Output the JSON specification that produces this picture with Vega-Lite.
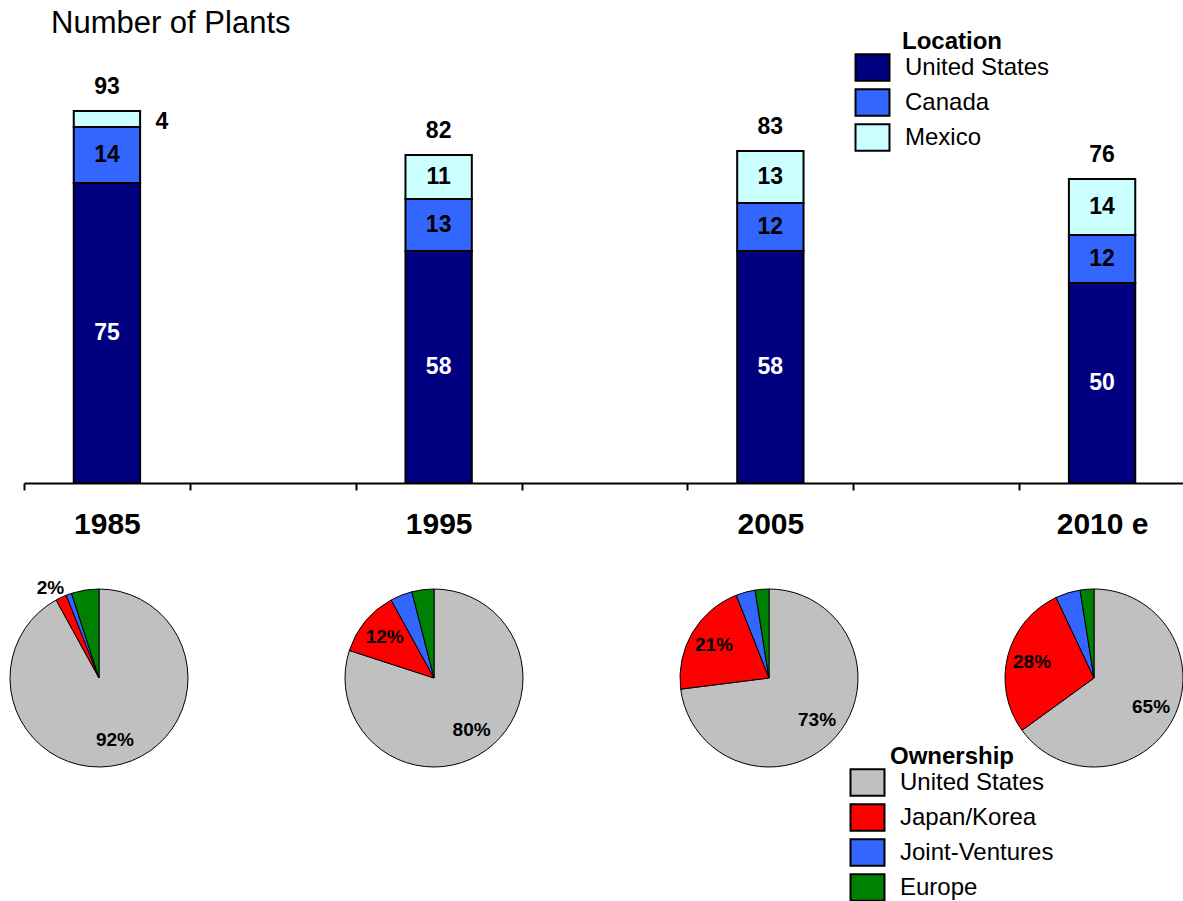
{
  "$schema": "https://vega.github.io/schema/vega-lite/v6.json",
  "padding": {"left": 8, "top": 8, "right": 0, "bottom": 0},
  "bounds": "flush",
  "spacing": 103,
  "config": {"view": {"stroke": null}, "font": "Liberation Sans"},
  "resolve": {"scale": {"color": "independent", "theta": "independent"}, "legend": {"color": "independent"}},
  "datasets": {
    "plants": [
      {"year": "1985", "location": "United States", "value": 75},
      {"year": "1985", "location": "Canada", "value": 14},
      {"year": "1985", "location": "Mexico", "value": 4},
      {"year": "1995", "location": "United States", "value": 58},
      {"year": "1995", "location": "Canada", "value": 13},
      {"year": "1995", "location": "Mexico", "value": 11},
      {"year": "2005", "location": "United States", "value": 58},
      {"year": "2005", "location": "Canada", "value": 12},
      {"year": "2005", "location": "Mexico", "value": 13},
      {"year": "2010 e", "location": "United States", "value": 50},
      {"year": "2010 e", "location": "Canada", "value": 12},
      {"year": "2010 e", "location": "Mexico", "value": 14}
    ],
    "own": [
      {"year": "1985", "owner": "United States", "share": 0.92},
      {"year": "1985", "owner": "Japan/Korea", "share": 0.02},
      {"year": "1985", "owner": "Joint-Ventures", "share": 0.01},
      {"year": "1985", "owner": "Europe", "share": 0.05},
      {"year": "1995", "owner": "United States", "share": 0.80},
      {"year": "1995", "owner": "Japan/Korea", "share": 0.12},
      {"year": "1995", "owner": "Joint-Ventures", "share": 0.04},
      {"year": "1995", "owner": "Europe", "share": 0.04},
      {"year": "2005", "owner": "United States", "share": 0.73},
      {"year": "2005", "owner": "Japan/Korea", "share": 0.21},
      {"year": "2005", "owner": "Joint-Ventures", "share": 0.035},
      {"year": "2005", "owner": "Europe", "share": 0.025},
      {"year": "2010 e", "owner": "United States", "share": 0.65},
      {"year": "2010 e", "owner": "Japan/Korea", "share": 0.28},
      {"year": "2010 e", "owner": "Joint-Ventures", "share": 0.045},
      {"year": "2010 e", "owner": "Europe", "share": 0.025}
    ]
  },
  "vconcat": [
    {
      "width": 1161,
      "height": 400,
      "title": {"text": "Number of Plants", "anchor": "start", "frame": "group", "dx": 27, "fontSize": 31, "fontWeight": "normal", "font": "Liberation Sans", "color": "black", "offset": -10},
      "data": {"name": "plants"},
      "transform": [{"window": [{"op": "row_number", "as": "rank"}], "groupby": ["year"]}],
      "encoding": {
        "x": {
          "field": "year", "type": "nominal", "sort": null,
          "scale": {"domain": ["1985", "gap1", "1995", "gap2", "2005", "gap3", "2010 e"], "paddingInner": 0, "paddingOuter": 0},
          "axis": {"title": null, "tickBand": "extent", "labelAngle": 0, "labelExpr": "indexof(datum.label, 'gap') == 0 ? '' : datum.label",
            "labelFontSize": 30, "labelFontWeight": "bold", "labelColor": "black", "labelPadding": 19,
            "domainColor": "black", "domainWidth": 2, "tickColor": "black", "tickWidth": 2, "tickSize": 7}
        }
      },
      "layer": [
        {
          "mark": {"type": "bar", "width": {"band": 0.4}, "stroke": "black", "strokeWidth": 2},
          "encoding": {
            "y": {"field": "value", "type": "quantitative", "stack": "zero", "scale": {"domain": [0, 100]}, "axis": null},
            "order": {"field": "rank", "type": "quantitative"},
            "color": {"field": "location", "type": "nominal",
              "scale": {"domain": ["United States", "Canada", "Mexico"], "range": ["#000080", "#3366FF", "#CCFFFF"]},
              "legend": {"title": "Location", "orient": "none", "legendX": 831, "legendY": -53,
                "titleFontSize": 24, "titleFontWeight": "bold", "titleColor": "black", "titleAnchor": "middle", "titlePadding": -4,
                "labelFontSize": 24, "labelColor": "black", "labelOffset": 15,
                "symbolType": "M-1.03,-0.8H1.03V0.8H-1.03Z", "symbolSize": 1089, "symbolStrokeColor": "black", "symbolStrokeWidth": 2, "symbolOpacity": 1,
                "rowPadding": -4.5}}
          }
        },
        {
          "mark": {"type": "text", "fontSize": 23, "fontWeight": "bold"},
          "encoding": {
            "y": {"field": "value", "type": "quantitative", "stack": "zero", "bandPosition": 0.5},
            "order": {"field": "rank", "type": "quantitative"},
            "detail": {"field": "location"},
            "text": {"condition": {"test": "datum.year == '1985' && datum.location == 'Mexico'", "value": ""}, "field": "value", "type": "quantitative"},
            "color": {"condition": {"test": "datum.location == 'United States'", "value": "white"}, "value": "black"}
          }
        },
        {
          "mark": {"type": "text", "fontSize": 23, "fontWeight": "bold", "color": "black", "dx": 55, "dy": 3},
          "encoding": {
            "y": {"field": "value", "type": "quantitative", "stack": "zero", "bandPosition": 0.5},
            "order": {"field": "rank", "type": "quantitative"},
            "detail": {"field": "location"},
            "text": {"condition": {"test": "datum.year == '1985' && datum.location == 'Mexico'", "field": "value", "type": "quantitative"}, "value": ""}
          }
        },
        {
          "mark": {"type": "text", "fontSize": 23, "fontWeight": "bold", "color": "black", "baseline": "bottom", "dy": -12},
          "encoding": {
            "y": {"aggregate": "sum", "field": "value", "type": "quantitative"},
            "text": {"aggregate": "sum", "field": "value", "type": "quantitative"}
          }
        }
      ]
    },
    {
      "bounds": "flush",
      "spacing": 185,
      "hconcat": [
        {
          "width": 150, "height": 184,
          "data": {"name": "own"},
          "transform": [{"filter": "datum.year == '1985'"}, {"window": [{"op": "row_number", "as": "rank"}]}],
          "encoding": {"theta": {"field": "share", "type": "quantitative", "stack": true}, "order": {"field": "rank", "type": "quantitative"}},
          "layer": [
            {"mark": {"type": "arc", "outerRadius": 89, "stroke": "black", "strokeWidth": 1},
             "encoding": {"color": {"field": "owner", "type": "nominal",
               "scale": {"domain": ["United States", "Japan/Korea", "Joint-Ventures", "Europe"], "range": ["#C0C0C0", "#FF0000", "#3366FF", "#008000"]},
               "legend": {"title": "Ownership", "orient": "none", "legendX": 826, "legendY": 159,
                "titleFontSize": 24, "titleFontWeight": "bold", "titleColor": "black", "titleAnchor": "middle", "titlePadding": -4,
                "labelFontSize": 24, "labelColor": "black", "labelOffset": 15,
                "symbolType": "M-1.03,-0.8H1.03V0.8H-1.03Z", "symbolSize": 1089, "symbolStrokeColor": "black", "symbolStrokeWidth": 2, "symbolOpacity": 1,
                "rowPadding": -4}}}},
            {"mark": {"type": "text", "radius": 64, "fontSize": 19, "fontWeight": "bold", "color": "black"},
             "encoding": {"text": {"condition": {"test": "datum.owner == 'United States'", "field": "share", "type": "quantitative", "format": ".0%"}, "value": ""}}},
            {"mark": {"type": "text", "radius": 100, "dx": -6, "fontSize": 19, "fontWeight": "bold", "color": "black"},
             "encoding": {"text": {"condition": {"test": "datum.owner == 'Japan/Korea'", "field": "share", "type": "quantitative", "format": ".0%"}, "value": ""}}}
          ]
        },
        {
          "width": 150, "height": 184,
          "data": {"name": "own"},
          "transform": [{"filter": "datum.year == '1995'"}, {"window": [{"op": "row_number", "as": "rank"}]}],
          "encoding": {"theta": {"field": "share", "type": "quantitative", "stack": true}, "order": {"field": "rank", "type": "quantitative"}},
          "layer": [
            {"mark": {"type": "arc", "outerRadius": 89, "stroke": "black", "strokeWidth": 1},
             "encoding": {"color": {"field": "owner", "type": "nominal",
               "scale": {"domain": ["United States", "Japan/Korea", "Joint-Ventures", "Europe"], "range": ["#C0C0C0", "#FF0000", "#3366FF", "#008000"]},
               "legend": {"title": "Ownership", "orient": "none", "legendX": 826, "legendY": 159,
                "titleFontSize": 24, "titleFontWeight": "bold", "titleColor": "black", "titleAnchor": "middle", "titlePadding": -4,
                "labelFontSize": 24, "labelColor": "black", "labelOffset": 15,
                "symbolType": "M-1.03,-0.8H1.03V0.8H-1.03Z", "symbolSize": 1089, "symbolStrokeColor": "black", "symbolStrokeWidth": 2, "symbolOpacity": 1,
                "rowPadding": -4}}}},
            {"mark": {"type": "text", "radius": 64, "fontSize": 19, "fontWeight": "bold", "color": "black"},
             "encoding": {"text": {"condition": {"test": "datum.owner == 'United States' || datum.owner == 'Japan/Korea'", "field": "share", "type": "quantitative", "format": ".0%"}, "value": ""}}}
          ]
        },
        {
          "width": 150, "height": 184,
          "data": {"name": "own"},
          "transform": [{"filter": "datum.year == '2005'"}, {"window": [{"op": "row_number", "as": "rank"}]}],
          "encoding": {"theta": {"field": "share", "type": "quantitative", "stack": true}, "order": {"field": "rank", "type": "quantitative"}},
          "layer": [
            {"mark": {"type": "arc", "outerRadius": 89, "stroke": "black", "strokeWidth": 1},
             "encoding": {"color": {"field": "owner", "type": "nominal",
               "scale": {"domain": ["United States", "Japan/Korea", "Joint-Ventures", "Europe"], "range": ["#C0C0C0", "#FF0000", "#3366FF", "#008000"]},
               "legend": {"title": "Ownership", "orient": "none", "legendX": 826, "legendY": 159,
                "titleFontSize": 24, "titleFontWeight": "bold", "titleColor": "black", "titleAnchor": "middle", "titlePadding": -4,
                "labelFontSize": 24, "labelColor": "black", "labelOffset": 15,
                "symbolType": "M-1.03,-0.8H1.03V0.8H-1.03Z", "symbolSize": 1089, "symbolStrokeColor": "black", "symbolStrokeWidth": 2, "symbolOpacity": 1,
                "rowPadding": -4}}}},
            {"mark": {"type": "text", "radius": 64, "fontSize": 19, "fontWeight": "bold", "color": "black"},
             "encoding": {"text": {"condition": {"test": "datum.owner == 'United States' || datum.owner == 'Japan/Korea'", "field": "share", "type": "quantitative", "format": ".0%"}, "value": ""}}}
          ]
        },
        {
          "width": 130, "height": 184,
          "data": {"name": "own"},
          "transform": [{"filter": "datum.year == '2010 e'"}, {"window": [{"op": "row_number", "as": "rank"}]}],
          "encoding": {"theta": {"field": "share", "type": "quantitative", "stack": true}, "order": {"field": "rank", "type": "quantitative"}},
          "layer": [
            {"mark": {"type": "arc", "outerRadius": 89, "stroke": "black", "strokeWidth": 1},
             "encoding": {"color": {"field": "owner", "type": "nominal",
               "scale": {"domain": ["United States", "Japan/Korea", "Joint-Ventures", "Europe"], "range": ["#C0C0C0", "#FF0000", "#3366FF", "#008000"]},
               "legend": {"title": "Ownership", "orient": "none", "legendX": 826, "legendY": 159,
                "titleFontSize": 24, "titleFontWeight": "bold", "titleColor": "black", "titleAnchor": "middle", "titlePadding": -4,
                "labelFontSize": 24, "labelColor": "black", "labelOffset": 15,
                "symbolType": "M-1.03,-0.8H1.03V0.8H-1.03Z", "symbolSize": 1089, "symbolStrokeColor": "black", "symbolStrokeWidth": 2, "symbolOpacity": 1,
                "rowPadding": -4}}}},
            {"mark": {"type": "text", "radius": 64, "fontSize": 19, "fontWeight": "bold", "color": "black"},
             "encoding": {"text": {"condition": {"test": "datum.owner == 'United States' || datum.owner == 'Japan/Korea'", "field": "share", "type": "quantitative", "format": ".0%"}, "value": ""}}}
          ]
        }
      ]
    }
  ]
}
